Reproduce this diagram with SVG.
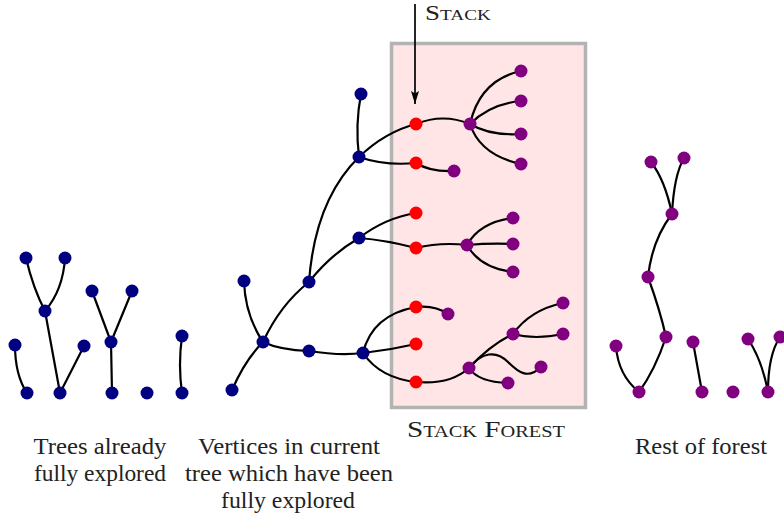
<svg xmlns="http://www.w3.org/2000/svg" width="784" height="521" viewBox="0 0 784 521">
<defs>
<style>
.e{fill:none;stroke:#000;stroke-width:2.2;stroke-linecap:round}
.b{fill:#000080}
.r{fill:#ff0000}
.p{fill:#800080}
.t{font-family:"Liberation Serif","Times New Roman",serif;font-size:23px;fill:#222;text-anchor:middle}
.sc{font-variant:small-caps}
</style>
<marker id="ah" viewBox="0 0 10 10" refX="10" refY="5" markerWidth="13" markerHeight="8" markerUnits="userSpaceOnUse" orient="auto" preserveAspectRatio="none">
<path d="M0,0 L10,5 L0,10 L2,5 Z" fill="#000"/>
</marker>
</defs>
<rect x="0" y="0" width="784" height="521" fill="#fff"/>
<g id="stack-forest-box"><rect x="391.5" y="43.5" width="194" height="364" fill="#ffe5e6" stroke="#b3b3b3" stroke-width="3.5"/></g>
<g id="connectors">
<path class="e" d="M15,345 Q15,375 27,393"/>
<path class="e" d="M26,258 Q33,288 45,311"/>
<path class="e" d="M65,258 Q63,290 45,311"/>
<path class="e" d="M45,311 L60,393"/>
<path class="e" d="M84,346 L60,393"/>
<path class="e" d="M92,291 L111,342"/>
<path class="e" d="M132,291 L111,342"/>
<path class="e" d="M111,342 L112,393"/>
<path class="e" d="M182,336 Q178,365 182,393"/>
<path class="e" d="M361,94 Q355,125 359,157"/>
<path class="e" d="M359,157 Q315,200 309,282"/>
<path class="e" d="M359,238 Q330,255 309,282"/>
<path class="e" d="M309,282 Q280,305 263,342"/>
<path class="e" d="M244,281 Q245,315 263,342"/>
<path class="e" d="M263,342 Q245,360 232,390"/>
<path class="e" d="M263,342 Q280,350 309,351"/>
<path class="e" d="M309,351 Q340,356 363,353"/>
<path class="e" d="M359,157 Q385,132 416,124"/>
<path class="e" d="M359,157 Q385,166 416,163"/>
<path class="e" d="M416,124 Q443,113 470,124"/>
<path class="e" d="M470,124 Q480,80 521,71"/>
<path class="e" d="M470,124 Q490,104 521,101"/>
<path class="e" d="M470,124 Q490,136 521,134"/>
<path class="e" d="M470,124 Q480,155 521,164"/>
<path class="e" d="M416,163 Q430,172 454,171"/>
<path class="e" d="M359,238 Q385,218 416,213"/>
<path class="e" d="M359,238 Q385,240 416,248"/>
<path class="e" d="M416,248 Q440,242 467,245"/>
<path class="e" d="M467,245 Q480,222 513,218"/>
<path class="e" d="M467,245 Q490,243 513,244"/>
<path class="e" d="M467,245 Q480,268 513,272"/>
<path class="e" d="M363,353 Q372,315 416,307"/>
<path class="e" d="M363,353 Q390,350 416,344"/>
<path class="e" d="M363,353 Q380,378 416,382"/>
<path class="e" d="M416,307 Q435,305 448,314"/>
<path class="e" d="M416,382 Q450,385 469,368"/>
<path class="e" d="M469,368 Q490,345 513,334"/>
<path class="e" d="M513,334 Q530,310 563,303"/>
<path class="e" d="M513,334 Q535,340 563,334"/>
<path class="e" d="M469,368 C482,352 496,350 508,362 C518,372 528,380 541,367"/>
<path class="e" d="M469,368 Q478,382 508,383"/>
<path class="e" d="M651,162 Q665,180 672,214"/>
<path class="e" d="M684,158 Q674,175 672,214"/>
<path class="e" d="M672,214 Q652,240 648,277"/>
<path class="e" d="M648,277 Q660,310 666,337"/>
<path class="e" d="M666,337 Q655,370 639,392"/>
<path class="e" d="M616,346 Q618,375 639,392"/>
<path class="e" d="M693,342 L702,392"/>
<path class="e" d="M748,339 Q762,360 768,392"/>
<path class="e" d="M780,337 Q768,355 768,392"/>
<line x1="415" y1="4" x2="415" y2="104" stroke="#000" stroke-width="1.7" marker-end="url(#ah)"/>
</g>
<g id="n-l1"><circle class="b" cx="26" cy="258" r="6.5"/></g>
<g id="n-l2"><circle class="b" cx="65" cy="258" r="6.5"/></g>
<g id="n-l3"><circle class="b" cx="45" cy="311" r="6.5"/></g>
<g id="n-l4"><circle class="b" cx="15" cy="345" r="6.5"/></g>
<g id="n-l5"><circle class="b" cx="27" cy="393" r="6.5"/></g>
<g id="n-l6"><circle class="b" cx="60" cy="393" r="6.5"/></g>
<g id="n-l7"><circle class="b" cx="84" cy="346" r="6.5"/></g>
<g id="n-l8"><circle class="b" cx="92" cy="291" r="6.5"/></g>
<g id="n-l9"><circle class="b" cx="132" cy="291" r="6.5"/></g>
<g id="n-l10"><circle class="b" cx="111" cy="342" r="6.5"/></g>
<g id="n-l11"><circle class="b" cx="112" cy="393" r="6.5"/></g>
<g id="n-l12"><circle class="b" cx="147" cy="393" r="6.5"/></g>
<g id="n-l13"><circle class="b" cx="182" cy="336" r="6.5"/></g>
<g id="n-l14"><circle class="b" cx="182" cy="393" r="6.5"/></g>
<g id="n-m1"><circle class="b" cx="361" cy="94" r="6.5"/></g>
<g id="n-m2"><circle class="b" cx="359" cy="157" r="6.5"/></g>
<g id="n-m3"><circle class="b" cx="359" cy="238" r="6.5"/></g>
<g id="n-m4"><circle class="b" cx="309" cy="282" r="6.5"/></g>
<g id="n-m5"><circle class="b" cx="244" cy="281" r="6.5"/></g>
<g id="n-m6"><circle class="b" cx="263" cy="342" r="6.5"/></g>
<g id="n-m7"><circle class="b" cx="309" cy="351" r="6.5"/></g>
<g id="n-m8"><circle class="b" cx="363" cy="353" r="6.5"/></g>
<g id="n-m9"><circle class="b" cx="232" cy="390" r="6.5"/></g>
<g id="n-s1"><circle class="r" cx="416" cy="124" r="6.5"/></g>
<g id="n-s2"><circle class="r" cx="416" cy="163" r="6.5"/></g>
<g id="n-s3"><circle class="r" cx="416" cy="213" r="6.5"/></g>
<g id="n-s4"><circle class="r" cx="416" cy="248" r="6.5"/></g>
<g id="n-s5"><circle class="r" cx="416" cy="307" r="6.5"/></g>
<g id="n-s6"><circle class="r" cx="416" cy="344" r="6.5"/></g>
<g id="n-s7"><circle class="r" cx="416" cy="382" r="6.5"/></g>
<g id="n-p1"><circle class="p" cx="470" cy="124" r="6.5"/></g>
<g id="n-p2"><circle class="p" cx="521" cy="71" r="6.5"/></g>
<g id="n-p3"><circle class="p" cx="521" cy="101" r="6.5"/></g>
<g id="n-p4"><circle class="p" cx="521" cy="134" r="6.5"/></g>
<g id="n-p5"><circle class="p" cx="521" cy="164" r="6.5"/></g>
<g id="n-p6"><circle class="p" cx="454" cy="171" r="6.5"/></g>
<g id="n-p7"><circle class="p" cx="467" cy="245" r="6.5"/></g>
<g id="n-p8"><circle class="p" cx="513" cy="218" r="6.5"/></g>
<g id="n-p9"><circle class="p" cx="513" cy="244" r="6.5"/></g>
<g id="n-p10"><circle class="p" cx="513" cy="272" r="6.5"/></g>
<g id="n-p11"><circle class="p" cx="448" cy="314" r="6.5"/></g>
<g id="n-p12"><circle class="p" cx="469" cy="368" r="6.5"/></g>
<g id="n-p13"><circle class="p" cx="513" cy="334" r="6.5"/></g>
<g id="n-p14"><circle class="p" cx="563" cy="303" r="6.5"/></g>
<g id="n-p15"><circle class="p" cx="563" cy="334" r="6.5"/></g>
<g id="n-p16"><circle class="p" cx="541" cy="367" r="6.5"/></g>
<g id="n-p17"><circle class="p" cx="508" cy="383" r="6.5"/></g>
<g id="n-f1"><circle class="p" cx="651" cy="162" r="6.5"/></g>
<g id="n-f2"><circle class="p" cx="684" cy="158" r="6.5"/></g>
<g id="n-f3"><circle class="p" cx="672" cy="214" r="6.5"/></g>
<g id="n-f4"><circle class="p" cx="648" cy="277" r="6.5"/></g>
<g id="n-f5"><circle class="p" cx="666" cy="337" r="6.5"/></g>
<g id="n-f6"><circle class="p" cx="616" cy="346" r="6.5"/></g>
<g id="n-f7"><circle class="p" cx="639" cy="392" r="6.5"/></g>
<g id="n-f8"><circle class="p" cx="693" cy="342" r="6.5"/></g>
<g id="n-f9"><circle class="p" cx="702" cy="392" r="6.5"/></g>
<g id="n-f10"><circle class="p" cx="733" cy="392" r="6.5"/></g>
<g id="n-f11"><circle class="p" cx="748" cy="339" r="6.5"/></g>
<g id="n-f12"><circle class="p" cx="768" cy="392" r="6.5"/></g>
<g id="n-f13"><circle class="p" cx="780" cy="337" r="6.5"/></g>
<g id="labels">
<text class="t sc" x="458" y="20" style="font-size:21px" textLength="66" lengthAdjust="spacingAndGlyphs">Stack</text>
<text class="t sc" x="486" y="437" textLength="158" lengthAdjust="spacingAndGlyphs">Stack Forest</text>
<text class="t" x="100" y="454" textLength="133" lengthAdjust="spacingAndGlyphs">Trees already</text>
<text class="t" x="100" y="481" textLength="132" lengthAdjust="spacingAndGlyphs">fully explored</text>
<text class="t" x="289" y="454" textLength="182" lengthAdjust="spacingAndGlyphs">Vertices in current</text>
<text class="t" x="289" y="481" textLength="208" lengthAdjust="spacingAndGlyphs">tree which have been</text>
<text class="t" x="288" y="508" textLength="134" lengthAdjust="spacingAndGlyphs">fully explored</text>
<text class="t" x="701" y="454" textLength="132" lengthAdjust="spacingAndGlyphs">Rest of forest</text>
</g>
</svg>
